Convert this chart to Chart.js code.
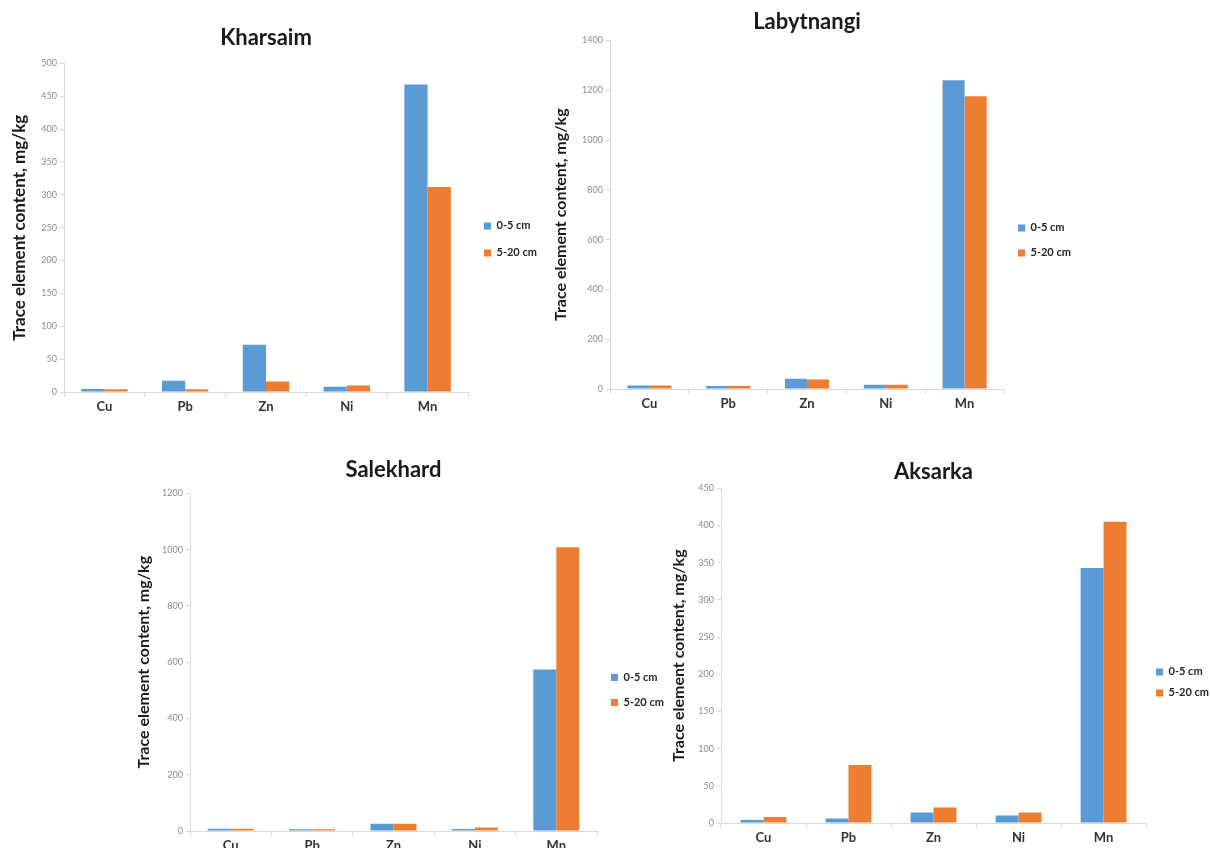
<!DOCTYPE html>
<html>
<head>
<meta charset="utf-8">
<script src="https://cdn.jsdelivr.net/npm/chart.js@4.4.1/dist/chart.umd.min.js"></script>
<style>
  html, body { margin: 0; padding: 0; background: #ffffff; overflow: hidden; width: 1210px; height: 848px; }
  .panel { position: absolute; }
  .panel canvas { display: block; }
</style>
</head>
<body>
<div class="panel" id="p1"><canvas id="c1"></canvas></div>
<div class="panel" id="p2"><canvas id="c2"></canvas></div>
<div class="panel" id="p3"><canvas id="c3"></canvas></div>
<div class="panel" id="p4"><canvas id="c4"></canvas></div>
<script>
// ---- data ----
const categories = ['Cu', 'Pb', 'Zn', 'Ni', 'Mn'];
const seriesNames = ['0-5 cm', '5-20 cm'];
const yAxisTitle = 'Trace element content, mg/kg';

const kharsaimTop = [4.5, 17, 72, 8, 468];
const kharsaimSub = [4, 4, 16, 10, 312];

const labytnangiTop = [14, 12, 41, 17, 1240];
const labytnangiSub = [14, 12, 38, 17, 1176];

const salekhardTop = [8, 6, 26, 7, 574];
const salekhardSub = [8, 6, 26, 12, 1009];

const aksarkaTop = [4, 6, 14, 10, 343];
const aksarkaSub = [8, 78, 21, 14, 405];

const kharsaimTicks = [0, 500, 50];     // min, max, step
const labytnangiTicks = [0, 1400, 200];
const salekhardTicks = [0, 1200, 200];
const aksarkaTicks = [0, 450, 50];

// ---- styling ----
const BLUE = '#5B9BD5';
const ORANGE = '#ED7D31';
const AXIS = '#d9d9d9';
Chart.defaults.font.family = "Lato, 'Liberation Sans', sans-serif";
Chart.defaults.animation = false;

function makeChart(cfg) {
  const panel = document.getElementById(cfg.panel);
  panel.style.left = cfg.left + 'px';
  panel.style.top = cfg.top + 'px';
  panel.style.width = cfg.width + 'px';
  panel.style.height = cfg.height + 'px';
  const ctx = document.getElementById(cfg.canvas);
  return new Chart(ctx, {
    type: 'bar',
    data: {
      labels: categories,
      datasets: [
        { label: seriesNames[0], data: cfg.top5, backgroundColor: BLUE, borderWidth: 0,
          categoryPercentage: cfg.catPct, barPercentage: 1.0 },
        { label: seriesNames[1], data: cfg.sub20, backgroundColor: ORANGE, borderWidth: 0,
          categoryPercentage: cfg.catPct, barPercentage: 1.0 }
      ]
    },
    options: {
      responsive: true,
      maintainAspectRatio: false,
      devicePixelRatio: 1,
      layout: { padding: { left: cfg.padLeft, right: 0, top: 0, bottom: 0 } },
      plugins: {
        title: {
          display: true, text: cfg.title, color: '#1a1a1a', fullSize: false,
          font: { size: 22, weight: 'bold' },
          padding: { top: cfg.titlePadTop, bottom: cfg.titlePadBottom }
        },
        legend: {
          display: true, position: 'right', align: 'center', fullSize: false,
          maxWidth: 75,
          title: { display: true, text: '', font: { size: 12 }, padding: { top: cfg.legendShift, bottom: 0 } },
          labels: {
            boxWidth: 7, boxHeight: 7, padding: cfg.legendPad, color: '#262626',
            font: { size: 11, weight: 'bold' }
          }
        },
        tooltip: { enabled: false }
      },
      scales: {
        x: {
          grid: { display: true, drawOnChartArea: false, drawTicks: true, tickLength: 5, color: AXIS, offset: true },
          border: { display: true, color: AXIS, width: 1 },
          ticks: { color: '#333333', padding: 2, font: { size: 13, weight: 'bold' } },
          afterFit: s => { s.height = 30; }
        },
        y: {
          min: cfg.ticks[0], max: cfg.ticks[1],
          grid: { display: true, drawOnChartArea: false, drawTicks: true, tickLength: 4, color: AXIS },
          border: { display: true, color: AXIS, width: 1 },
          ticks: { stepSize: cfg.ticks[2], color: '#8c8c8c', padding: 3, font: { size: 9 },
                   format: { useGrouping: false } },
          title: {
            display: true, text: yAxisTitle, color: '#1a1a1a',
            font: { size: cfg.yTitleSize, weight: 'bold' }, padding: { top: 0, bottom: 0 }
          },
          afterFit: s => { s.width = cfg.yWidth; }
        }
      }
    }
  });
}

makeChart({ panel: 'p1', canvas: 'c1', title: 'Kharsaim', top5: kharsaimTop, sub20: kharsaimSub,
  ticks: kharsaimTicks, catPct: 0.575, yTitleSize: 17,
  left: 0, top: 0, width: 543, height: 422, padLeft: 9, yWidth: 55,
  titlePadTop: 25, titlePadBottom: 12, legendPad: 16, legendShift: 9 });

makeChart({ panel: 'p2', canvas: 'c2', title: 'Labytnangi', top5: labytnangiTop, sub20: labytnangiSub,
  ticks: labytnangiTicks, catPct: 0.56, yTitleSize: 16,
  left: 540, top: 0, width: 539, height: 419, padLeft: 11, yWidth: 59,
  titlePadTop: 9, titlePadBottom: 5, legendPad: 14, legendShift: 37 });

makeChart({ panel: 'p3', canvas: 'c3', title: 'Salekhard', top5: salekhardTop, sub20: salekhardSub,
  ticks: salekhardTicks, catPct: 0.565, yTitleSize: 16,
  left: 120, top: 430, width: 552, height: 431, padLeft: 14, yWidth: 56,
  titlePadTop: 27, titlePadBottom: 10, legendPad: 14, legendShift: 41 });

makeChart({ panel: 'p4', canvas: 'c4', title: 'Aksarka', top5: aksarkaTop, sub20: aksarkaSub,
  ticks: aksarkaTicks, catPct: 0.54, yTitleSize: 16,
  left: 660, top: 430, width: 559, height: 423, padLeft: 9, yWidth: 52,
  titlePadTop: 29, titlePadBottom: 3, legendPad: 10, legendShift: 39 });
</script>
</body>
</html>
